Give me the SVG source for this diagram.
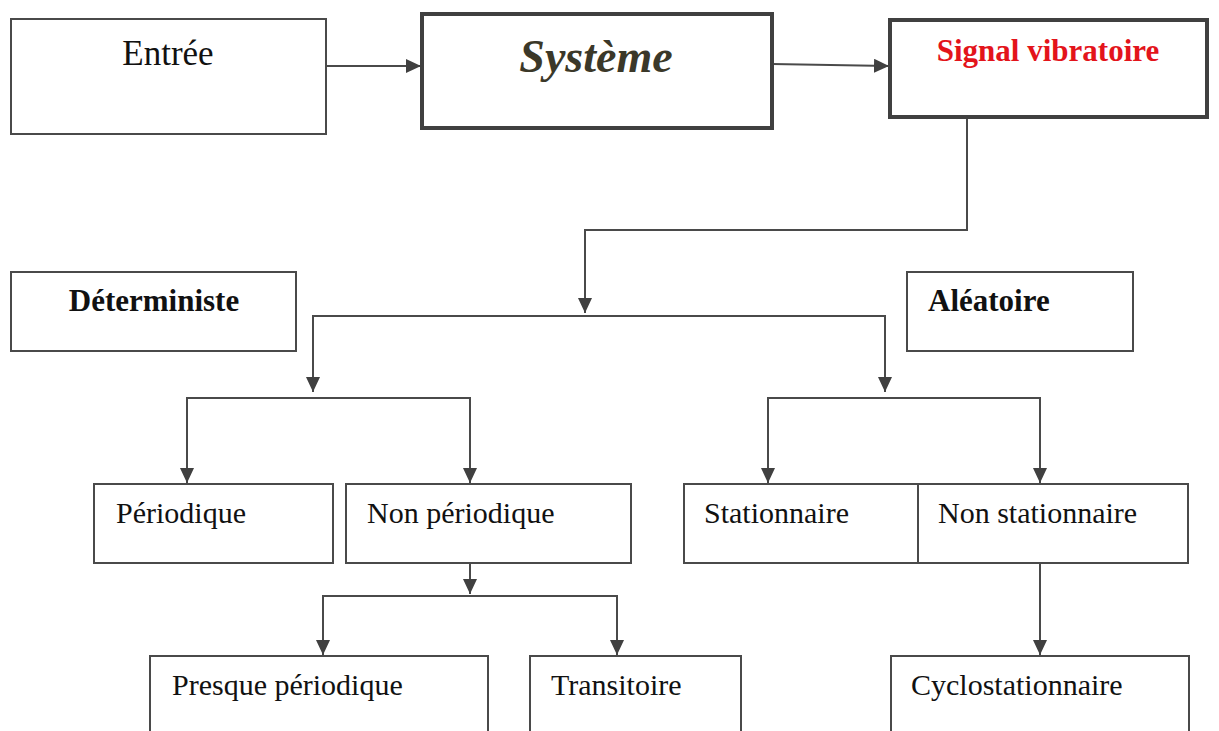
<svg xmlns="http://www.w3.org/2000/svg" width="1219" height="731" viewBox="0 0 1219 731">
<style>
.box{fill:#fff;stroke:#4a4a4a;stroke-width:2}
.thick{fill:#fff;stroke:#404040;stroke-width:4}
.t{font-family:"Liberation Serif",serif;font-size:30px;fill:#111}
.b{font-weight:bold;font-size:31px}
.c{fill:none;stroke:#4a4a4a;stroke-width:2}
</style>
<defs>
<marker id="ah" markerUnits="userSpaceOnUse" markerWidth="16" markerHeight="14" refX="15" refY="7" orient="auto">
<path d="M0,0 L15,7 L0,14 Z" fill="#404040"/>
</marker>
</defs>
<rect width="1219" height="731" fill="#fff"/>
<g id="connectors">
<line class="c" x1="326" y1="66" x2="421" y2="66" marker-end="url(#ah)"/>
<line class="c" x1="772" y1="64" x2="889" y2="66" marker-end="url(#ah)"/>
<polyline class="c" points="967,117 967,230 585,230 585,313" marker-end="url(#ah)"/>
<polyline class="c" points="313,392 313,316 885,316 885,392" marker-end="url(#ah)"/>
<line class="c" x1="313" y1="316" x2="313" y2="392" marker-end="url(#ah)"/>
<polyline class="c" points="187,483 187,398 470,398 470,483" marker-end="url(#ah)"/>
<line class="c" x1="187" y1="398" x2="187" y2="483" marker-end="url(#ah)"/>
<line class="c" x1="470" y1="563" x2="470" y2="594" marker-end="url(#ah)"/>
<polyline class="c" points="323,655 323,596 617,596 617,655" marker-end="url(#ah)"/>
<line class="c" x1="323" y1="596" x2="323" y2="655" marker-end="url(#ah)"/>
<polyline class="c" points="768,483 768,398 1040,398 1040,483" marker-end="url(#ah)"/>
<line class="c" x1="768" y1="398" x2="768" y2="483" marker-end="url(#ah)"/>
<line class="c" x1="1040" y1="563" x2="1040" y2="655" marker-end="url(#ah)"/>
</g>
<g id="entree"><rect class="box" x="11" y="19" width="315" height="115"/><text class="t" x="168" y="65" text-anchor="middle" style="font-size:35px">Entrée</text></g>
<g id="systeme"><rect class="thick" x="422" y="14" width="350" height="114"/><text class="t" x="596" y="72" text-anchor="middle" style="font-size:46px;font-weight:bold;font-style:italic;fill:#3b3829">Système</text></g>
<g id="signal"><rect class="thick" x="890" y="20" width="317" height="97"/><text class="t b" x="1048" y="61" text-anchor="middle" style="fill:#e3141b">Signal vibratoire</text></g>
<g id="deterministe"><rect class="box" x="11" y="272" width="285" height="79"/><text class="t b" x="154" y="311" text-anchor="middle">Déterministe</text></g>
<g id="aleatoire"><rect class="box" x="907" y="272" width="226" height="79"/><text class="t b" x="928" y="311">Aléatoire</text></g>
<g id="periodique"><rect class="box" x="94" y="484" width="239" height="79"/><text class="t" x="116" y="523">Périodique</text></g>
<g id="nonperiodique"><rect class="box" x="346" y="484" width="285" height="79"/><text class="t" x="367" y="523">Non périodique</text></g>
<g id="stationnaire"><rect class="box" x="684" y="484" width="234" height="79"/><text class="t" x="704" y="523">Stationnaire</text></g>
<g id="nonstationnaire"><rect class="box" x="918" y="484" width="270" height="79"/><text class="t" x="938" y="523">Non stationnaire</text></g>
<g id="presque"><rect class="box" x="150" y="656" width="338" height="90"/><text class="t" x="172" y="695">Presque périodique</text></g>
<g id="transitoire"><rect class="box" x="530" y="656" width="211" height="90"/><text class="t" x="551" y="695">Transitoire</text></g>
<g id="cyclo"><rect class="box" x="891" y="656" width="298" height="90"/><text class="t" x="911" y="695">Cyclostationnaire</text></g>
</svg>
